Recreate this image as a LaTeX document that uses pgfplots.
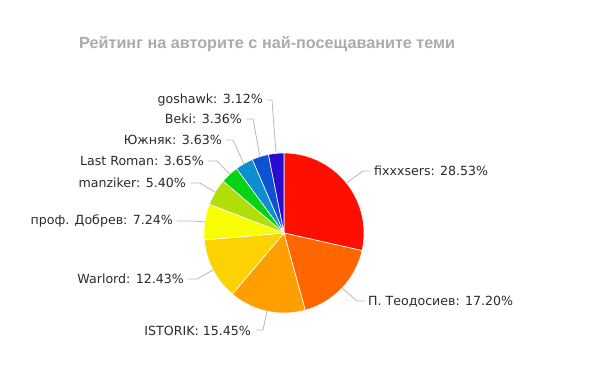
\documentclass[border=0pt]{standalone}
\usepackage{pgfplots}
\pgfplotsset{compat=1.18}
\usepackage{fontspec}
\setmainfont{DejaVu Sans}
\newfontfamily\titlefont{Liberation Sans}
\definecolor{cA}{HTML}{FF0F00}
\definecolor{cB}{HTML}{FF6600}
\definecolor{cC}{HTML}{FF9E01}
\definecolor{cD}{HTML}{FCD202}
\definecolor{cE}{HTML}{F8FF01}
\definecolor{cF}{HTML}{B0DE09}
\definecolor{cG}{HTML}{04D215}
\definecolor{cH}{HTML}{0D8ECF}
\definecolor{cI}{HTML}{0D52D1}
\definecolor{cJ}{HTML}{2A0CD0}
\definecolor{titlegray}{HTML}{ABABAB}
\definecolor{labelc}{HTML}{2A2A2A}
\definecolor{linec}{HTML}{B8B8B8}
% shares (percent), clockwise from the top
\def\pA{28.53}\def\pB{17.20}\def\pC{15.45}\def\pD{12.43}\def\pE{7.24}
\def\pF{5.40}\def\pG{3.65}\def\pH{3.63}\def\pI{3.36}\def\pJ{3.12}
\pgfmathsetmacro\aA{90}
\pgfmathsetmacro\aB{\aA-3.6*\pA}
\pgfmathsetmacro\aC{\aB-3.6*\pB}
\pgfmathsetmacro\aD{\aC-3.6*\pC}
\pgfmathsetmacro\aE{\aD-3.6*\pD}
\pgfmathsetmacro\aF{\aE-3.6*\pE}
\pgfmathsetmacro\aG{\aF-3.6*\pF}
\pgfmathsetmacro\aH{\aG-3.6*\pG}
\pgfmathsetmacro\aI{\aH-3.6*\pH}
\pgfmathsetmacro\aJ{\aI-3.6*\pI}
\pgfmathsetmacro\aK{-270}
\def\cx{284}\def\cy{233}\def\R{80}
\newcommand\slice[3]{%
  \addplot[fill=#1, draw=white, line width=0.6bp, domain=#3:#2, samples=60, variable=\t]
    ({\cx+\R*cos(\t)},{\cy-\R*sin(\t)}) -- (axis cs:\cx,\cy) -- cycle;}
\begin{document}
\begin{tikzpicture}
\begin{axis}[
  scale only axis, width=592bp, height=391bp,
  xmin=0, xmax=592, ymin=0, ymax=391, y dir=reverse,
  hide axis, clip=false,
]
\path (rel axis cs:0,0) rectangle (rel axis cs:1,1);
\slice{cA}{\aA}{\aB}
\slice{cB}{\aB}{\aC}
\slice{cC}{\aC}{\aD}
\slice{cD}{\aD}{\aE}
\slice{cE}{\aE}{\aF}
\slice{cF}{\aF}{\aG}
\slice{cG}{\aG}{\aH}
\slice{cH}{\aH}{\aI}
\slice{cI}{\aI}{\aJ}
\slice{cJ}{\aJ}{\aK}
% title
\node[font=\titlefont\bfseries\fontsize{16.2bp}{19bp}\selectfont, text=titlegray, anchor=west, inner sep=0pt]
  at (axis cs:79,44) {Рейтинг на авторите с най-посещаваните теми};
% connector lines
\begin{scope}[linec, line width=0.8bp]
\draw (axis cs:346.5,183) -- (axis cs:363,171) -- (axis cs:370,171);
\draw (axis cs:342,288) -- (axis cs:357,301) -- (axis cs:365,301);
\draw (axis cs:267,311) -- (axis cs:263,330) -- (axis cs:256,330);
\draw (axis cs:213,270) -- (axis cs:197,279) -- (axis cs:188,279);
\draw (axis cs:205,222) -- (axis cs:193,221) -- (axis cs:177,221);
\draw (axis cs:215,192) -- (axis cs:200,183) -- (axis cs:191,183);
\draw (axis cs:229.5,174) -- (axis cs:217,161) -- (axis cs:208,161);
\draw (axis cs:244,164) -- (axis cs:233,140) -- (axis cs:226,140);
\draw (axis cs:260,157) -- (axis cs:253,119) -- (axis cs:247,119);
\draw (axis cs:276,153) -- (axis cs:272,100) -- (axis cs:267,100);
\end{scope}
% labels
\begin{scope}[every node/.style={font=\fontsize{12.6bp}{15bp}\selectfont, text=labelc, inner sep=0pt}]
\node[anchor=west] at (axis cs:374,171) {fixxxsers: 28.53\%};
\node[anchor=west] at (axis cs:368,302) {П. Теодосиев: 17.20\%};
\node[anchor=east] at (axis cs:251,331) {ISTORIK: 15.45\%};
\node[anchor=east] at (axis cs:184,279) {Warlord: 12.43\%};
\node[anchor=east] at (axis cs:173,221) {проф. Добрев: 7.24\%};
\node[anchor=east] at (axis cs:186,183) {manziker: 5.40\%};
\node[anchor=east] at (axis cs:204,161) {Last Roman: 3.65\%};
\node[anchor=east] at (axis cs:222,140) {Южняк: 3.63\%};
\node[anchor=east] at (axis cs:242,119) {Beki: 3.36\%};
\node[anchor=east] at (axis cs:263,100) {goshawk: 3.12\%};
\end{scope}
\end{axis}
\end{tikzpicture}
\end{document}
